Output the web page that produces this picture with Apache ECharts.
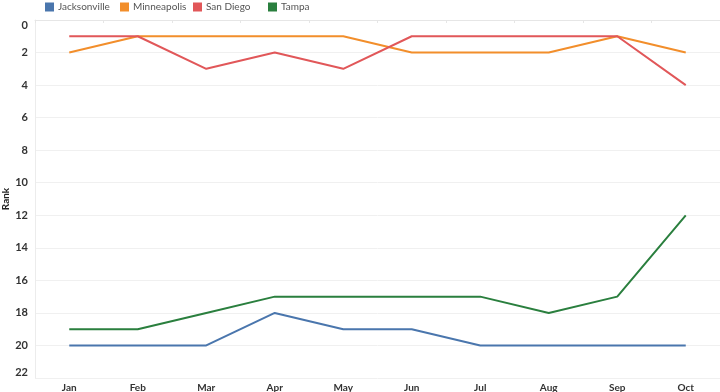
<!DOCTYPE html>
<html>
<head>
<meta charset="utf-8">
<script src="https://cdn.jsdelivr.net/npm/echarts@6/dist/echarts.min.js"></script>
<style>html,body{margin:0;padding:0;background:#fff;}#c{width:720px;height:392px;}</style>
</head>
<body>
<div id="c"></div>
<script>
const categories = ['Jan','Feb','Mar','Apr','May','Jun','Jul','Aug','Sep','Oct'];
const jacksonville = [20,20,20,18,19,19,20,20,20,20];
const minneapolis = [2,1,1,1,1,2,2,2,1,2];
const sanDiego = [1,1,3,2,3,1,1,1,1,4];
const tampa = [19,19,18,17,17,17,17,18,17,12];
const seriesNames = ['Jacksonville','Minneapolis','San Diego','Tampa'];
const colors = ['#4a76ad','#f28e2b','#e15759','#2a7f3e'];
const legendLefts = [45,120,193,268];

const chart = echarts.init(document.getElementById('c'));
const mk = (name, data, i) => ({
  name, type: 'line', data, symbol: 'none', smooth: false,
  lineStyle: {width: 2, color: colors[i]}, itemStyle: {color: colors[i]}
});
chart.setOption({
  animation: false,
  legend: seriesNames.map((n, i) => ({
    left: legendLefts[i], top: 2, padding: 0, itemWidth: 9, itemHeight: 9, itemGap: 3, icon: 'rect',
    textStyle: {fontSize: 10, color: '#555', fontFamily: 'Lato', padding: [0,0,0,-1]},
    data: [n]
  })),
  grid: {left: 35, right: 0, top: 20, bottom: 14, outerBoundsMode: 'none', containLabel: false},
  xAxis: {
    type: 'category', data: categories, boundaryGap: true,
    axisLine: {lineStyle: {color: '#e6e6e6'}},
    axisTick: {show: true, lineStyle: {color: '#e6e6e6'}, length: 3},
    axisLabel: {fontSize: 10, fontWeight: 'bold', color: '#333', margin: 5, fontFamily: 'Lato'}
  },
  yAxis: {
    type: 'value', inverse: true, min: 0, max: 22, interval: 2,
    name: 'Rank', nameLocation: 'middle', nameRotate: 90, nameGap: 24, nameMoveOverlap: false,
    nameTextStyle: {fontSize: 10, fontWeight: 'bold', color: '#222', fontFamily: 'Lato'},
    axisLine: {show: true, lineStyle: {color: '#ececec'}},
    axisTick: {show: false},
    splitLine: {lineStyle: {color: '#f0f0f0'}},
    axisLabel: {fontSize: 11, fontWeight: 'bold', color: '#333', margin: 7, fontFamily: 'Lato',
      verticalAlignMinLabel: 'top', verticalAlignMaxLabel: 'bottom'}
  },
  series: [
    mk('Jacksonville', jacksonville, 0),
    mk('Minneapolis', minneapolis, 1),
    mk('San Diego', sanDiego, 2),
    mk('Tampa', tampa, 3)
  ]
});
</script>
</body>
</html>
